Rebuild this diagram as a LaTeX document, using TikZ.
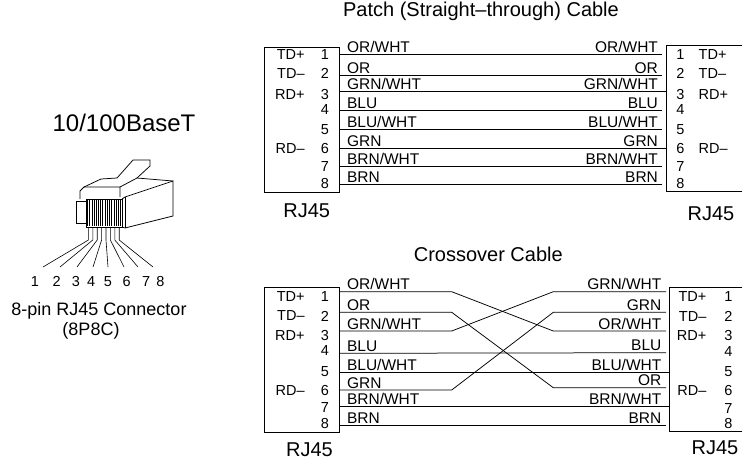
\documentclass[tikz,border=0pt]{standalone}
\usepackage{fontspec}
\setmainfont{Liberation Sans}
\newcommand{\fsz}[1]{\fontsize{#1}{#1}\selectfont}
\begin{document}
\begin{tikzpicture}[x=1pt, y=-1pt, line width=0.75pt,
    jack/.style={draw, inner sep=0pt, anchor=north west},
    pinnum/.style={inner sep=0pt, font=\fsz{14.5}},
    signal/.style={inner sep=0pt, font=\fsz{14.5}},
    colour/.style={inner sep=0pt, font=\fsz{15.5}},
    caption/.style={inner sep=0pt, font=\fsz{20}, anchor=base}]
    \path[use as bounding box, fill=white] (0,0) rectangle (742,461);

    % plug drawing
    \node[inner sep=0pt, font=\fsz{24}, anchor=base] (basetitle) at (124,131.7) {10/100BaseT};
    \draw (76,201.7) rectangle (86,223.3);
    \draw (86,199) rectangle (122,227);
    \foreach \k in {0,...,7}
        \draw[line width=0.45pt] (87.4+4.4*\k,200) -- ++(0,26) (89.4+4.4*\k,200) -- ++(0,26);
    \draw (122,199) -- (125,197) -- (173,181) -- (173,216) -- (125,228) -- (122,227);
    \draw (125,197) -- (125,228);
    \draw (80,199) -- (80,191) -- (84,187) -- (120,187) -- (120,197);
    \draw (84,187) -- (101,179) -- (117,178);
    \draw (120,187) -- (137,178) -- (173,181);
    \draw (117,178) -- (133,160) -- (150,160) -- (150,166) -- (137,178);
    \foreach \x/\e [count=\i] in {88.4/43,92.8/60,97.2/77,101.6/93,106/108,110.4/124,114.8/138,119.2/153}
        \draw[line width=0.6pt] (\x,227) -- (\x,240) -- (\e,267);
    \foreach \x [count=\i] in {35,56.7,76,91.2,108,126.7,146.2,160.3}
        \node[pinnum] (plugpin\i) at (\x,281.7) {\i};
    \node[inner sep=0pt, font=\fsz{18}, anchor=base] (plugname) at (99,315.5) {8-pin RJ45 Connector};
    \node[inner sep=0pt, font=\fsz{18}, anchor=base] (plugcode) at (91,335) {(8P8C)};

    % patch (straight-through) cable
    \node[caption] (stitle) at (481,16.7) {Patch (Straight–through) Cable};
    \node[jack, minimum width=74.7pt, minimum height=145pt] (sBoxL) at (264.3,47.3) {};
    \node[jack, minimum width=95pt, minimum height=145.7pt] (sBoxR) at (665.7,45) {};
    \foreach \y/\e [count=\i] in {54.3/662,75/662,91.7/665.7,110/662,129.3/662,148.3/665.7,166.7/662,184.3/662} {
        \coordinate (sL\i) at (339,\y);
        \coordinate (sR\i) at (\e,\y);
        \draw (sL\i) -- (sR\i);
    }
    \foreach \t [count=\i] in {OR/WHT,OR,GRN/WHT,BLU,BLU/WHT,GRN,BRN/WHT,BRN} {
        \path (sL\i) ++(7.7,-1.8) node[colour, anchor=base west] (sCL\i) {\t};
        \path (sL\i -| 658.3,0) ++(0,-1.8) node[colour, anchor=base east] (sCR\i) {\t};
    }
    \foreach \y [count=\i] in {55,73.3,95,110,130,148.3,166.7,183.3} {
        \node[pinnum] (sNL\i) at (325,\y) {\i};
        \node[pinnum] (sNR\i) at (680.5,\y) {\i};
    }
    \node[signal, anchor=east] (sTDpL) at (305,55) {TD+};
    \node[signal, anchor=east] (sTDmL) at (305,73.3) {TD–};
    \node[signal, anchor=east] (sRDpL) at (305,95) {RD+};
    \node[signal, anchor=east] (sRDmL) at (305,148.3) {RD–};
    \node[signal, anchor=west] (sTDpR) at (698.3,55) {TD+};
    \node[signal, anchor=west] (sTDmR) at (698.3,73.3) {TD–};
    \node[signal, anchor=west] (sRDpR) at (698.3,95) {RD+};
    \node[signal, anchor=west] (sRDmR) at (698.3,148.3) {RD–};
    \node[inner sep=0pt, font=\fsz{20}] (sJackL) at (306.7,210.8) {RJ45};
    \node[inner sep=0pt, font=\fsz{20}] (sJackR) at (711,213.8) {RJ45};

    % crossover cable
    \node[caption] (xtitle) at (488.3,261) {Crossover Cable};
    \node[jack, minimum width=74.7pt, minimum height=145pt] (xBoxL) at (264.3,286.7) {};
    \node[jack, minimum width=95pt, minimum height=143.7pt] (xBoxR) at (669,287.3) {};
    \foreach \y [count=\i] in {291.7,312.3,331,353.3,372.3,390,406.7,425.7} {
        \coordinate (xL\i) at (339,\y);
        \coordinate (xA\i) at (451.7,\y);
    }
    \foreach \y/\e [count=\i] in {291.7/666,312.3/666,331/666,352.7/666,372.3/669,387.7/666,406.7/669,425.7/666} {
        \coordinate (xR\i) at (\e,\y);
        \coordinate (xB\i) at (553.3,\y);
    }
    \draw (xL1) -- (xA1) -- (xB3) -- (xR3);
    \draw (xL2) -- (xA2) -- (xB6) -- (xR6);
    \draw (xL3) -- (xA3) -- (xB1) -- (xR1);
    \draw (xL6) -- (xA6) -- (xB2) -- (xR2);
    \foreach \i in {4,5,7,8}
        \draw (xL\i) -- (xR\i);
    \foreach \t [count=\i] in {OR/WHT,OR,GRN/WHT,BLU,BLU/WHT,GRN,BRN/WHT,BRN}
        \path (xL\i) ++(7.7,-1.8) node[colour, anchor=base west] (xCL\i) {\t};
    \foreach \t [count=\i] in {GRN/WHT,GRN,OR/WHT,BLU,BLU/WHT,OR,BRN/WHT,BRN}
        \path (xR\i -| 661.7,0) ++(0,-1.8) node[colour, anchor=base east] (xCR\i) {\t};
    \foreach \y/\z [count=\i] in {296.7/296.7,316/316.7,336/336,350.7/351.7,371.7/371.7,390.7/390.7,408/409,423.3/424} {
        \node[pinnum] (xNL\i) at (325,\y) {\i};
        \node[pinnum] (xNR\i) at (728.3,\z) {\i};
    }
    \node[signal, anchor=east] (xTDpL) at (305,296.7) {TD+};
    \node[signal, anchor=east] (xTDmL) at (305,316) {TD–};
    \node[signal, anchor=east] (xRDpL) at (305,336) {RD+};
    \node[signal, anchor=east] (xRDmL) at (305,390.7) {RD–};
    \node[signal, anchor=east] (xTDpR) at (706.7,296.7) {TD+};
    \node[signal, anchor=east] (xTDmR) at (706.7,316.7) {TD–};
    \node[signal, anchor=east] (xRDpR) at (706.7,336) {RD+};
    \node[signal, anchor=east] (xRDmR) at (706.7,390.7) {RD–};
    \node[inner sep=0pt, font=\fsz{20}] (xJackL) at (309.5,449.3) {RJ45};
    \node[inner sep=0pt, font=\fsz{20}] (xJackR) at (715,448) {RJ45};
\end{tikzpicture}
\end{document}
